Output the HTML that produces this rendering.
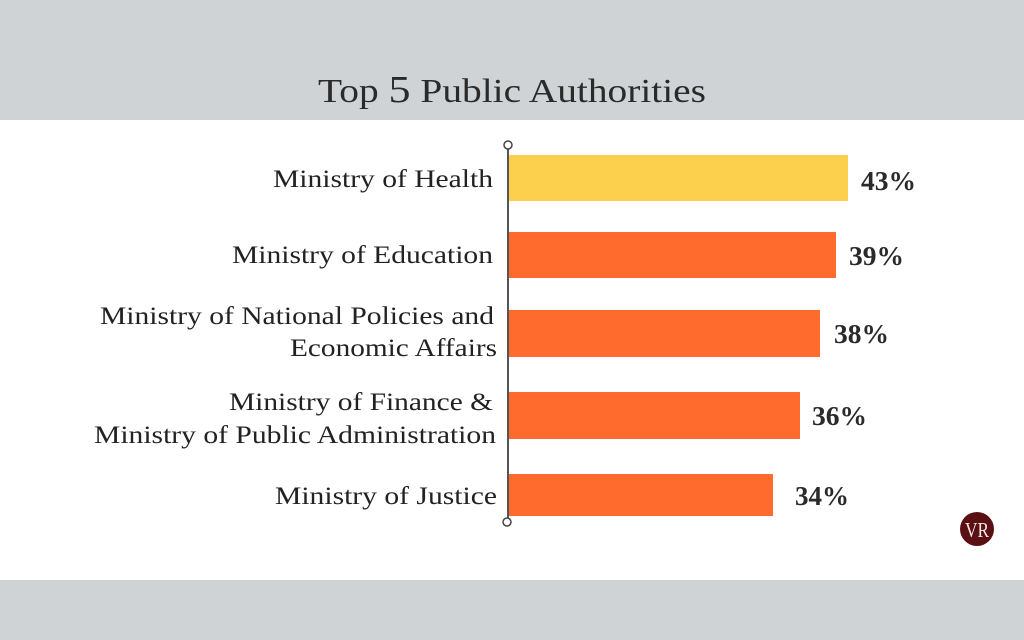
<!DOCTYPE html>
<html><head><meta charset="utf-8"><style>
html,body{margin:0;padding:0;width:1024px;height:640px;overflow:hidden;background:#fff}
svg{display:block}
</style></head><body>
<svg width="1024" height="640" viewBox="0 0 1024 640" xmlns="http://www.w3.org/2000/svg" font-family="Liberation Serif, serif">
<rect x="0" y="0" width="1024" height="120" fill="#d0d3d6"/>
<rect x="0" y="580" width="1024" height="60" fill="#d0d3d6"/>
<text x="318" y="102" font-size="34" fill="#2a2a2a" textLength="388" lengthAdjust="spacingAndGlyphs">Top <tspan font-size="38">5</tspan> Public Authorities</text>
<g fill="#222" font-size="25">
<text x="273" y="187" textLength="220" lengthAdjust="spacingAndGlyphs">Ministry of Health</text>
<text x="232" y="263" textLength="261" lengthAdjust="spacingAndGlyphs">Ministry of Education</text>
<text x="100" y="324" textLength="394" lengthAdjust="spacingAndGlyphs">Ministry of National Policies and</text>
<text x="290" y="356" textLength="207" lengthAdjust="spacingAndGlyphs">Economic Affairs</text>
<text x="229" y="410" textLength="264" lengthAdjust="spacingAndGlyphs">Ministry of Finance &amp;</text>
<text x="94" y="443" textLength="402" lengthAdjust="spacingAndGlyphs">Ministry of Public Administration</text>
<text x="275" y="504" textLength="222" lengthAdjust="spacingAndGlyphs">Ministry of Justice</text>
</g>
<rect x="509" y="155" width="339" height="46" fill="#fcd04c"/>
<rect x="509" y="232" width="327" height="46" fill="#fe6b2c"/>
<rect x="509" y="310" width="311" height="47" fill="#fe6b2c"/>
<rect x="509" y="392" width="291" height="47" fill="#fe6b2c"/>
<rect x="509" y="474" width="264" height="42" fill="#fe6b2c"/>
<line x1="508" y1="149" x2="508" y2="518" stroke="#555" stroke-width="2"/>
<circle cx="508" cy="145" r="4" fill="#fff" stroke="#444" stroke-width="1.5"/>
<circle cx="507" cy="522" r="4" fill="#fff" stroke="#444" stroke-width="1.5"/>
<g fill="#2a2a2a" font-size="27" font-weight="bold">
<text x="861" y="190" textLength="55" lengthAdjust="spacingAndGlyphs">43%</text>
<text x="849" y="265" textLength="55" lengthAdjust="spacingAndGlyphs">39%</text>
<text x="834" y="343" textLength="55" lengthAdjust="spacingAndGlyphs">38%</text>
<text x="812" y="425" textLength="55" lengthAdjust="spacingAndGlyphs">36%</text>
<text x="795" y="505" textLength="54" lengthAdjust="spacingAndGlyphs">34%</text>
</g>
<circle cx="977" cy="529" r="17" fill="#5a0f12"/>
<text x="977" y="537" font-size="21" fill="#f3e6e6" text-anchor="middle" textLength="24" lengthAdjust="spacingAndGlyphs">VR</text>
</svg>
</body></html>
